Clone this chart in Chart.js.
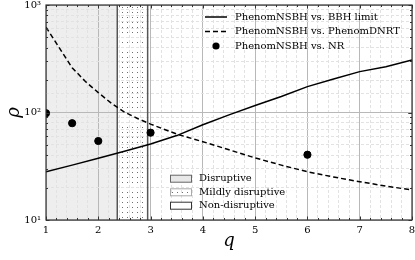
<!DOCTYPE html>
<html>
<head>
<meta charset="utf-8">
<script src="https://cdn.jsdelivr.net/npm/chart.js@4.4.1/dist/chart.umd.min.js"></script>
<style>
  html, body { margin: 0; padding: 0; background: #fff; }
</style>
</head>
<body>
<canvas id="rhoChart" width="415" height="260"></canvas>
<script>
// values
const qBBH = [1, 1.5, 2, 2.5, 3, 3.5, 4, 4.5, 5, 5.5, 6, 6.5, 7, 7.5, 8];
const rhoBBH = [28.1, 32.4, 37.5, 43.6, 51, 61, 77, 95, 116, 141, 174, 205, 240, 267, 308];
const qDNRT = [1, 1.5, 1.75, 2, 2.25, 2.5, 2.75, 3, 3.5, 4, 4.5, 5, 5.5, 6, 6.5, 7, 7.5, 8];
const rhoDNRT = [621, 261, 195, 153, 122, 101, 88, 78, 63, 53.5, 45, 37.8, 32.4, 28.1, 25.1, 22.7, 20.7, 19.0];
const qNR = [1, 1.5, 2, 3, 6];
const rhoNR = [98.5, 79.5, 54.3, 64.9, 40.5];
const seriesLabels = ["PhenomNSBH vs. BBH limit", "PhenomNSBH vs. PhenomDNRT", "PhenomNSBH vs. NR"];

const regionEdges = [1, 2.363, 2.944, 8];
const regionLabels = ["Disruptive", "Mildly disruptive", "Non-disruptive"];

const xTickValues = [1, 2, 3, 4, 5, 6, 7, 8];
const yTickValues = [10, 100, 1000];
const yTickText = ["10\u00b9", "10\u00b2", "10\u00b3"];

const SERIF = "'DejaVu Serif', serif";

const toPoints = (xs, ys) => xs.map((x, i) => ({ x: x, y: ys[i] }));
const isMajorX = v => Math.abs(v - Math.round(v)) < 1e-6;
const isMajorY = v => Math.abs(Math.log10(v) - Math.round(Math.log10(v))) < 1e-6;

// dotted fill for the "mildly disruptive" band
const dotTile = document.createElement("canvas");
dotTile.width = 5;
dotTile.height = 5;
const tctx = dotTile.getContext("2d");
tctx.fillStyle = "#6e6e6e";
tctx.fillRect(2, 2, 1, 1);

const regionPlugin = {
  id: "regions",
  beforeDraw(chart) {
    const { ctx, chartArea: a, scales: { x } } = chart;
    const dots = ctx.createPattern(dotTile, "repeat");
    ctx.save();
    ctx.fillStyle = "#eeeeee";
    const x0 = x.getPixelForValue(regionEdges[0]);
    const x1 = x.getPixelForValue(regionEdges[1]);
    const x2 = x.getPixelForValue(regionEdges[2]);
    ctx.fillRect(x0, a.top, x1 - x0, a.bottom - a.top);
    ctx.fillStyle = dots;
    ctx.fillRect(x1, a.top, x2 - x1, a.bottom - a.top);
    ctx.restore();
  },
  beforeDatasetsDraw(chart) {
    const { ctx, chartArea: a, scales: { x } } = chart;
    ctx.save();
    ctx.strokeStyle = "#555";
    ctx.lineWidth = 1.5;
    [regionEdges[1], regionEdges[2]].forEach(v => {
      const px = x.getPixelForValue(v);
      ctx.beginPath();
      ctx.moveTo(px, a.top);
      ctx.lineTo(px, a.bottom);
      ctx.stroke();
    });
    ctx.restore();
  }
};

const framePlugin = {
  id: "frame",
  afterDraw(chart) {
    const { ctx, chartArea: a, scales: { x, y } } = chart;
    ctx.save();
    ctx.strokeStyle = "#333";
    ctx.lineWidth = 1;
    // inward ticks on all four sides
    for (let i = 0; i <= 35; i++) {
      const v = 1 + i * 0.2;
      const px = Math.round(x.getPixelForValue(v)) + 0.5;
      const len = isMajorX(v) ? 3.5 : 2;
      ctx.beginPath();
      ctx.moveTo(px, a.bottom); ctx.lineTo(px, a.bottom - len);
      ctx.moveTo(px, a.top); ctx.lineTo(px, a.top + len);
      ctx.stroke();
    }
    for (let e = 1; e <= 2; e++) {
      for (let m = 1; m <= 10; m++) {
        const v = m * Math.pow(10, e);
        const py = Math.round(y.getPixelForValue(v)) + 0.5;
        const len = m === 1 || m === 10 ? 3.5 : 2;
        ctx.beginPath();
        ctx.moveTo(a.left, py); ctx.lineTo(a.left + len, py);
        ctx.moveTo(a.right, py); ctx.lineTo(a.right - len, py);
        ctx.stroke();
      }
    }
    ctx.lineWidth = 1.2;
    ctx.strokeRect(a.left, a.top, a.right - a.left, a.bottom - a.top);

    // legend for the curves (upper right)
    ctx.font = "10px " + SERIF;
    ctx.textBaseline = "middle";
    ctx.fillStyle = "#000";
    ctx.strokeStyle = "#000";
    ctx.lineWidth = 1.5;
    const rows = [17, 31.5, 46];
    ctx.beginPath(); ctx.moveTo(205, rows[0]); ctx.lineTo(227, rows[0]); ctx.stroke();
    ctx.setLineDash([5, 3]);
    ctx.beginPath(); ctx.moveTo(205, rows[1]); ctx.lineTo(227, rows[1]); ctx.stroke();
    ctx.setLineDash([]);
    ctx.beginPath(); ctx.arc(216, rows[2], 3.6, 0, Math.PI * 2); ctx.fill();
    seriesLabels.forEach((t, i) => ctx.fillText(t, 235, rows[i]));

    // legend for the regions (lower middle)
    const pRows = [178.7, 192.3, 205.7];
    const fills = ["#e8e8e8", ctx.createPattern(dotTile, "repeat"), "#ffffff"];
    const edges = ["#666", "#aaa", "#333"];
    pRows.forEach((r, i) => {
      ctx.fillStyle = fills[i];
      ctx.fillRect(170, r - 3.5, 22, 7);
      ctx.strokeStyle = edges[i];
      ctx.lineWidth = 1;
      ctx.strokeRect(170.5, r - 3.5, 21, 7);
      ctx.fillStyle = "#000";
      ctx.fillText(regionLabels[i], 199, r);
    });
    ctx.restore();
  }
};

Chart.defaults.color = "#000";
Chart.defaults.font.family = SERIF;

new Chart(document.getElementById("rhoChart"), {
  type: "scatter",
  data: {
    datasets: [
      {
        label: seriesLabels[0],
        data: toPoints(qBBH, rhoBBH),
        showLine: true,
        borderColor: "#000",
        borderWidth: 1.5,
        pointRadius: 0,
        tension: 0,
        clip: 0
      },
      {
        label: seriesLabels[1],
        data: toPoints(qDNRT, rhoDNRT),
        showLine: true,
        borderColor: "#000",
        borderWidth: 1.5,
        borderDash: [5, 3],
        pointRadius: 0,
        tension: 0,
        clip: 0
      },
      {
        label: seriesLabels[2],
        data: toPoints(qNR, rhoNR),
        showLine: false,
        backgroundColor: "#000",
        borderColor: "#000",
        pointRadius: 3.6,
        pointHoverRadius: 3.6,
        clip: 0
      }
    ]
  },
  options: {
    responsive: false,
    animation: false,
    devicePixelRatio: 1,
    layout: { autoPadding: false, padding: { top: 0, right: 3, bottom: 0, left: 0 } },
    plugins: { legend: { display: false }, tooltip: { enabled: false } },
    scales: {
      x: {
        type: "linear",
        min: 1,
        max: 8,
        afterFit(s) { s.height = 40; s.paddingLeft = 0; s.paddingRight = 0; s.paddingTop = 0; s.paddingBottom = 0; },
        ticks: {
          stepSize: 0.2,
          autoSkip: false,
          maxRotation: 0,
          padding: 4,
          font: { size: 10, family: SERIF },
          callback: v => (isMajorX(v) && xTickValues.includes(Math.round(v)) ? String(Math.round(v)) : "")
        },
        grid: {
          drawTicks: false,
          color: c => (c.tick && isMajorX(c.tick.value) ? "#b8b8b8" : "#e2e2e2"),
          lineWidth: 1
        },
        border: {
          display: false,
          dash: c => (c.tick && !isMajorX(c.tick.value) ? [3, 2] : [])
        },
        title: {
          display: true,
          text: "q",
          font: { size: 18, style: "italic", family: SERIF },
          padding: { top: 0, bottom: 8 }
        }
      },
      y: {
        type: "logarithmic",
        min: 10,
        max: 1000,
        afterFit(s) { s.width = 46; s.paddingTop = 5; s.paddingBottom = 0; s.paddingLeft = 0; s.paddingRight = 0; },
        ticks: {
          autoSkip: false,
          padding: 5,
          font: { size: 10, family: SERIF },
          callback: v => {
            const i = yTickValues.indexOf(v);
            return i >= 0 ? yTickText[i] : "";
          }
        },
        grid: {
          drawTicks: false,
          color: c => (c.tick && isMajorY(c.tick.value) ? "#b8b8b8" : "#e2e2e2"),
          lineWidth: 1
        },
        border: {
          display: false,
          dash: c => (c.tick && !isMajorY(c.tick.value) ? [3, 2] : [])
        },
        title: {
          display: true,
          text: "\u03c1",
          font: { size: 18, style: "italic", family: SERIF },
          padding: { top: 4, bottom: 0 }
        }
      }
    }
  },
  plugins: [regionPlugin, framePlugin]
});
</script>
</body>
</html>
